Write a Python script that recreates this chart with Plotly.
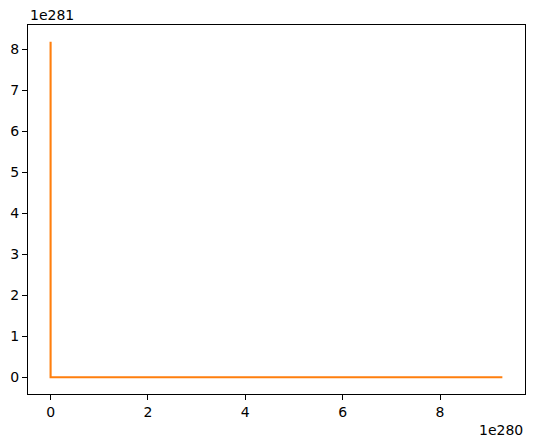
import plotly.graph_objects as go

# Data
x_values = [0.0, 0.0, 9.28e280]
y_values = [8.19e281, 0.0, 0.0]
x_tick_vals = [0, 2e280, 4e280, 6e280, 8e280]
x_tick_text = ["0", "2", "4", "6", "8"]
y_tick_vals = [i * 1e281 for i in range(9)]
y_tick_text = [str(i) for i in range(9)]
x_offset_label = "1e280"
y_offset_label = "1e281"

fig = go.Figure()
fig.add_trace(go.Scatter(
    x=x_values, y=y_values, mode="lines",
    line=dict(color="#ff7f0e", width=2.1),
    showlegend=False, hoverinfo="skip",
))

font = dict(family="DejaVu Sans", size=14, color="black")
axis_common = dict(
    showline=True, linecolor="black", linewidth=1, mirror=True,
    ticks="outside", ticklen=5, tickwidth=1, tickcolor="black",
    showgrid=False, zeroline=False, tickfont=font, automargin=False,
)

# page body has an 8px margin, so the figure is offset by 8px
fig.update_layout(
    width=526, height=438, autosize=False,
    margin=dict(l=20, r=9, t=17, b=52),
    paper_bgcolor="white", plot_bgcolor="white",
    xaxis=dict(range=[-0.464e280, 9.745e280], tickmode="array",
               tickvals=x_tick_vals, ticktext=x_tick_text, **axis_common),
    yaxis=dict(range=[-0.41e281, 8.6e281], tickmode="array",
               tickvals=y_tick_vals, ticktext=y_tick_text, **axis_common),
    annotations=[
        dict(text=y_offset_label, xref="paper", yref="paper", x=0, y=1,
             xanchor="left", yanchor="bottom", showarrow=False, font=font, yshift=0),
        dict(text=x_offset_label, xref="paper", yref="paper", x=1, y=0,
             xanchor="right", yanchor="top", showarrow=False, font=font, yshift=-26),
    ],
)

fig.write_html("out.html")
